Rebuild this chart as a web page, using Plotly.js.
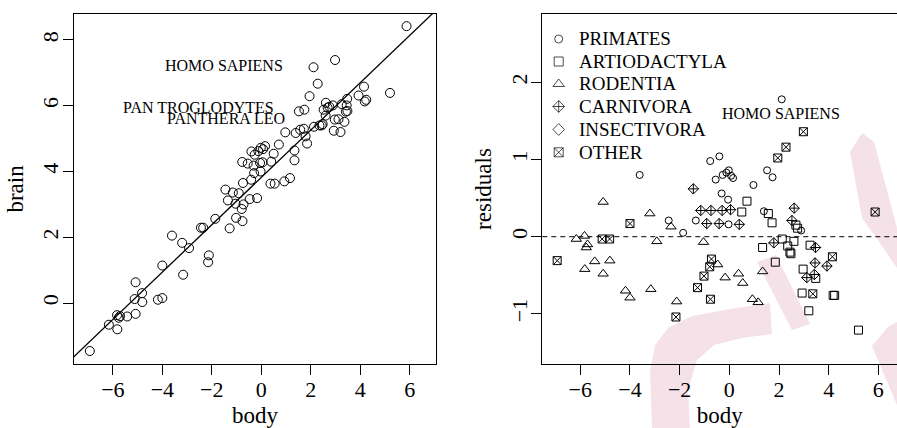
<!DOCTYPE html>
<html><head><meta charset="utf-8">
<script src="https://cdn.plot.ly/plotly-3.0.1.min.js"></script>
<style>html,body{margin:0;padding:0;background:#fff;}#chart{width:897px;height:428px;}</style>
</head><body><div id="chart"></div>
<script>
// ---- data (log body, log brain, residual from the fitted line) ----
const primatesBody  = [-3.61,-2.44,-1.86,-1.35,-0.77,-0.40,-0.55,-0.27,-0.12,-0.02,0.07,0.15,-0.31,-0.05,-0.03,0.97,1.52,1.74,1.39,2.11,2.89];
const primatesBrain = [2.05,2.29,2.56,3.12,4.29,4.61,4.24,4.51,4.62,4.72,4.68,4.77,4.18,4.26,4.00,5.19,5.83,5.88,5.17,7.17,6.01];
const primatesResid = [0.80,0.21,0.05,0.21,0.98,1.04,0.74,0.80,0.83,0.86,0.79,0.76,0.56,0.48,0.16,0.67,0.86,0.77,0.33,1.78,0.08];

const artioBody  = [0.71,0.50,1.57,1.72,2.68,2.75,1.34,1.85,2.13,2.35,2.44,2.48,2.60,3.25,2.97,3.48,2.93,4.18,4.24,3.20,5.20];
const artioBrain = [4.82,4.54,5.27,5.30,5.94,5.97,4.64,4.85,5.36,5.40,5.40,5.44,5.70,6.05,5.58,5.84,5.24,6.13,6.18,5.20,6.39];
const artioResid = [0.46,0.32,0.30,0.18,0.15,0.11,-0.14,-0.33,-0.03,-0.12,-0.20,-0.22,-0.06,-0.11,-0.42,-0.54,-0.73,-0.76,-0.76,-0.96,-1.21];

const rodentBody  = [-5.08,-3.20,-2.35,-6.16,-5.83,-5.71,-5.76,-2.92,-1.04,-5.42,-4.81,-5.82,-5.08,-4.18,-4.00,-3.16,-2.12,-0.47,-0.17,0.37,0.54,0.93,1.16,1.34];
const rodentBrain = [0.63,1.83,2.29,-0.66,-0.37,-0.40,-0.45,1.67,3.02,-0.41,0.03,-0.80,-0.33,0.10,0.15,0.86,1.45,3.16,3.19,3.63,3.63,3.70,3.80,4.34];
const rodentResid = [0.45,0.30,0.13,-0.03,0.01,-0.10,-0.14,-0.06,-0.07,-0.32,-0.31,-0.42,-0.48,-0.70,-0.79,-0.68,-0.84,-0.36,-0.53,-0.48,-0.60,-0.81,-0.85,-0.45];

const carnBody  = [-1.45,-1.15,-0.74,-0.29,0.05,-0.91,-0.41,0.40,2.61,2.52,1.79,3.47,3.45,3.93,3.12,3.42];
const carnBrain = [3.45,3.36,3.65,3.95,4.28,3.34,3.75,4.30,6.09,5.88,5.07,6.21,6.01,6.31,5.59,5.82];
const carnResid = [0.62,0.34,0.34,0.34,0.35,0.17,0.17,0.16,0.37,0.21,-0.08,-0.14,-0.34,-0.38,-0.53,-0.49];

const insectBody  = [];
const insectBrain = [];
const insectResid = [];

const otherBody  = [-4.00,-5.12,-4.82,-6.93,-2.15,-0.72,-0.79,-1.02,-1.28,-0.76,1.95,2.28,2.98,5.87,4.15,3.36];
const otherBrain = [1.14,0.12,0.30,-1.46,1.24,3.00,2.86,2.59,2.27,2.49,6.29,6.67,7.39,8.42,6.58,5.51];
const otherResid = [0.17,-0.03,-0.03,-0.31,-1.04,-0.29,-0.39,-0.51,-0.66,-0.81,1.02,1.16,1.36,0.32,-0.26,-0.74];

const groupNames = ['PRIMATES','ARTIODACTYLA','RODENTIA','CARNIVORA','INSECTIVORA','OTHER'];
const groupSymbols = ['circle-open','square-open','triangle-up-open','diamond-cross-open','diamond-open','square-x-open'];
const groupSizes = [7, 8, 9, 8, 8, 8];

// fitted line  brain = intercept + slope * body
const lineIntercept = 3.82;
const lineSlope = 0.72;

const xTicks = [-6,-4,-2,0,2,4,6];
const brainTicks = [0,2,4,6,8];
const residTicks = [-1,0,1,2];

const labelsLeft = [
  {text:'HOMO SAPIENS', x:0.96, y:7.23},
  {text:'PAN TROGLODYTES', x:0.58, y:5.95},
  {text:'PANTHERA LEO', x:1.05, y:5.62}
];
const labelsRight = [{text:'HOMO SAPIENS', x:2.07, y:1.60}];

// ---- build ----
const FONT = '"Liberation Serif", "Times New Roman", Times, serif';
const W = 897, PLOT_TOP = 14, PLOT_BOTTOM = 364;
function pX(p){return p/W;}
function pY(p){return (PLOT_BOTTOM-p)/(PLOT_BOTTOM-PLOT_TOP);}

const groupsBody  = [primatesBody, artioBody, rodentBody, carnBody, insectBody, otherBody];
const groupsBrain = [primatesBrain, artioBrain, rodentBrain, carnBrain, insectBrain, otherBrain];
const groupsResid = [primatesResid, artioResid, rodentResid, carnResid, insectResid, otherResid];

const allBody = [].concat(...groupsBody);
const allBrain = [].concat(...groupsBrain);

const traces = [];
traces.push({type:'scatter', mode:'markers', x:allBody, y:allBrain, xaxis:'x', yaxis:'y',
  marker:{symbol:'circle-open', size:9, color:'black', line:{width:1, color:'black'}}, hoverinfo:'skip'});
const lx = [-9, 9];
traces.push({type:'scatter', mode:'lines', x:lx, y:lx.map(v=>lineIntercept+lineSlope*v), xaxis:'x', yaxis:'y',
  line:{color:'black', width:1.3}, hoverinfo:'skip'});

groupNames.forEach((name,i)=>{
  if(!groupsBody[i].length) return;
  traces.push({type:'scatter', mode:'markers', name:name, x:groupsBody[i], y:groupsResid[i], xaxis:'x2', yaxis:'y2',
    marker:{symbol:groupSymbols[i], size:groupSizes[i], color:'black', line:{width:1, color:'black'}}, hoverinfo:'skip'});
});

// legend (drawn like R's legend(): symbol + label, no box)
const legendSymbolPx = 558.7, legendTextPx = 577;
const legendRowPx = [39, 61.5, 84, 106.5, 129.5, 152.3];
traces.push({type:'scatter', mode:'markers', xaxis:'x3', yaxis:'y3',
  x:legendRowPx.map(()=>pX(legendSymbolPx)), y:legendRowPx.map(pY),
  marker:{symbol:groupSymbols, size:groupSizes.map(s=>s+1), color:'black', line:{width:1, color:'black'}}, hoverinfo:'skip', cliponaxis:false});

const pink = '#f5e1e8';
function poly(pts){return 'M'+pts.map(p=>pX(p[0]).toFixed(4)+','+pY(p[1]).toFixed(4)).join(' L')+' Z';}
const wm = [
  [[850,152],[862,133],[874,142],[897,228],[897,268],[878,240],[862,218]],
  [[757,262],[776,255],[810,324],[792,330]],
  [[652,428],[650,372],[655,345],[668,328],[692,316],[730,309],[770,303],[772,334],[742,338],[714,345],[697,360],[688,390],[690,428]],
  [[872,346],[888,327],[897,322],[897,405]]
];
const shapes = wm.map(p=>({type:'path', xref:'paper', yref:'paper', path:poly(p), fillcolor:pink, line:{width:0}, layer:'below'}));
shapes.push({type:'line', xref:'x2 domain', yref:'y2', x0:0, x1:1, y0:0, y1:0, line:{color:'black', width:1, dash:'5px,4px'}});

const axBase = {showline:true, mirror:true, linecolor:'black', linewidth:1, ticks:'outside', ticklen:10, tickwidth:1,
  tickcolor:'black', showgrid:false, zeroline:false, automargin:false, ticklabelstandoff:-4,
  tickfont:{size:22, family:FONT, color:'black'}};

const annotations = [];
labelsLeft.forEach(a=>annotations.push({text:a.text, x:a.x, y:a.y, xref:'x', yref:'y', xanchor:'right', yanchor:'middle',
  showarrow:false, font:{size:16, family:FONT, color:'black'}}));
labelsRight.forEach(a=>annotations.push({text:a.text, x:a.x, y:a.y, xref:'x2', yref:'y2', xanchor:'center', yanchor:'middle',
  showarrow:false, font:{size:16, family:FONT, color:'black'}}));
groupNames.forEach((name,i)=>annotations.push({text:name, xref:'paper', yref:'paper', x:pX(legendTextPx), y:pY(legendRowPx[i]),
  xanchor:'left', yanchor:'middle', showarrow:false, font:{size:19, family:FONT, color:'black'}}));

const layout = {
  width:W, height:428, margin:{l:0, r:0, t:PLOT_TOP, b:428-PLOT_BOTTOM},
  paper_bgcolor:'white', plot_bgcolor:'rgba(0,0,0,0)',
  font:{family:FONT, color:'black'},
  showlegend:false,
  xaxis:Object.assign({}, axBase, {domain:[74/W, 436/W], range:[-7.57,7.06], tickvals:xTicks, anchor:'y',
    title:{text:'body', font:{size:23, family:FONT}, standoff:12}}),
  yaxis:Object.assign({}, axBase, {domain:[0,1], range:[-1.855,8.79], tickvals:brainTicks, tickangle:-90, anchor:'x',
    title:{text:'brain', font:{size:23, family:FONT}, standoff:8}}),
  xaxis2:Object.assign({}, axBase, {domain:[542.3/W, 1], range:[-7.53,6.75], tickvals:xTicks, anchor:'y2',
    title:{text:'body', font:{size:23, family:FONT}, standoff:12}}),
  yaxis2:Object.assign({}, axBase, {domain:[0,1], range:[-1.649,2.885], tickvals:residTicks, tickangle:-90, anchor:'x2',
    title:{text:'residuals', font:{size:23, family:FONT}, standoff:8}}),
  xaxis3:{domain:[0,1], range:[0,1], visible:false, anchor:'y3', fixedrange:true},
  yaxis3:{domain:[0,1], range:[0,1], visible:false, anchor:'x3', fixedrange:true},
  shapes:shapes, annotations:annotations
};
Plotly.newPlot('chart', traces, layout, {staticPlot:true, displayModeBar:false});
</script></body></html>
